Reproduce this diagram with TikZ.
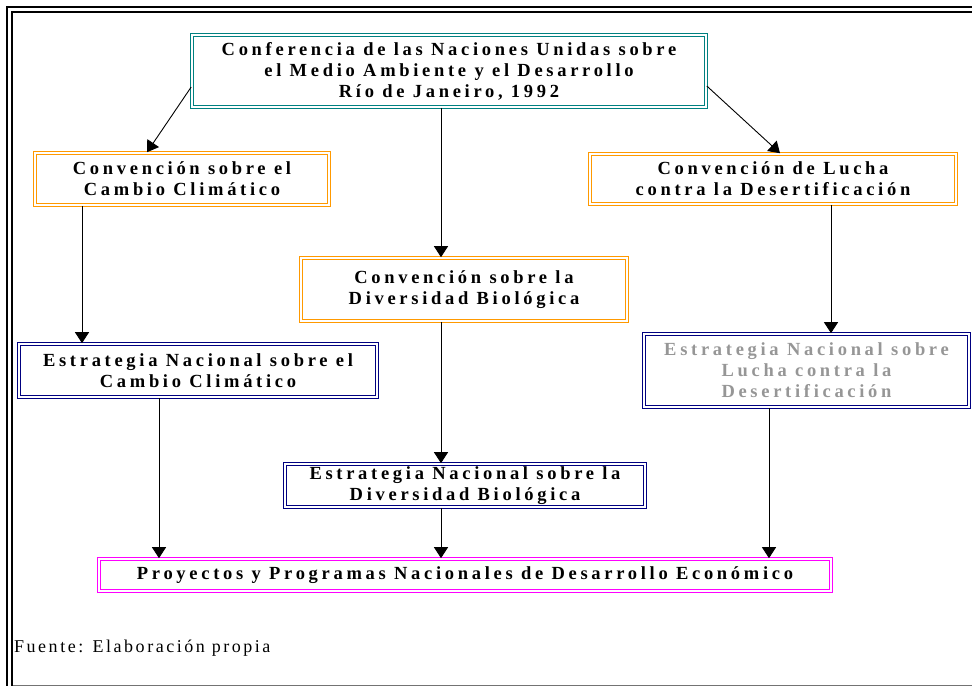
\documentclass[tikz,border=0pt]{standalone}
\usepackage{fontspec}
\setmainfont{Liberation Serif}
\newfontfamily\spacedfont[LetterSpace=20]{Liberation Serif}
\newfontfamily\sourcefont[LetterSpace=14]{Liberation Serif}
\usetikzlibrary{arrows.meta}
\definecolor{confteal}{RGB}{0,128,128}
\definecolor{convorange}{RGB}{255,153,0}
\definecolor{estnavy}{RGB}{0,0,128}
\definecolor{proymagenta}{RGB}{255,0,255}
\definecolor{greytext}{RGB}{150,150,150}
\tikzset{
	caja/.style={draw=#1, double=white, line width=1.6pt, double distance=1.3pt, align=center, inner sep=0pt,
		font={\spacedfont\bfseries\fontsize{18.5}{21}\selectfont}},
	flecha/.style={line width=0.9pt, -{Triangle[width=14pt,length=11pt]}},
}

\begin{document}
\begin{tikzpicture}[x=1pt, y=-1pt]
		%%%%% START %%%%%
		\useasboundingbox (0, 0) rectangle (972, 686);
		
		% frame
		\draw[line width=2pt] (6, 7) -- (972, 7);
		\draw[line width=2pt] (11, 12) -- (972, 12);
		\draw[line width=2pt] (7, 6) -- (7, 686);
		\draw[line width=2pt] (12, 11) -- (12, 686);
		\draw[line width=0.8pt, color=black!55] (13, 685) -- (972, 685);
		
		% boxes
		\node[caja=confteal, minimum width=514, minimum height=72] (conf) at (449, 71)
			{Conferencia de las Naciones Unidas sobre\\el Medio Ambiente y el Desarrollo\\Río de Janeiro, 1992};
		
		\node[caja=convorange, minimum width=294, minimum height=52] (convcc) at (182, 179)
			{Convención sobre el\\Cambio Climático};
		\node[caja=convorange, minimum width=366, minimum height=50] (convlucha) at (773, 179)
			{Convención de Lucha\\contra la Desertificación};
		\node[caja=convorange, minimum width=326, minimum height=63] (convdb) at (464, 289.5)
			{Convención sobre la\\Diversidad Biológica};
		
		\node[caja=estnavy, minimum width=358, minimum height=53] (estcc) at (198, 370.5)
			{Estrategia Nacional sobre el\\Cambio Climático};
		\node[caja=estnavy, minimum width=325, minimum height=73, text=greytext] (estlucha) at (806.5, 370.5)
			{Estrategia Nacional sobre\\Lucha contra la\\Desertificación};
		\node[caja=estnavy, minimum width=360, minimum height=43] (estdb) at (465, 485.5)
			{Estrategia Nacional sobre la\\Diversidad Biológica};
		
		\node[caja=proymagenta, minimum width=732, minimum height=32] (proy) at (465, 575)
			{Proyectos y Programas Nacionales de Desarrollo Económico};
		
		\node[anchor=west, inner sep=0pt, font={\sourcefont\fontsize{18}{21}\selectfont}] (fuente) at (14, 648)
			{Fuente: Elaboración propia};
		
		% arrows
		\draw[flecha] ([yshift=-16pt]conf.west) -- ([xshift=-35pt]convcc.north);
		\draw[flecha] ([yshift=-15pt]conf.east) -- ([xshift=7pt]convlucha.north);
		\draw[flecha] ([xshift=-8pt]conf.south) -- ([xshift=-8pt]conf.south |- convdb.north);
		
		\draw[flecha] ([xshift=-100pt]convcc.south) -- ([xshift=-100pt]convcc.south |- estcc.north);
		\draw[flecha] ([xshift=-23pt]convdb.south) -- ([xshift=-23pt]convdb.south |- estdb.north);
		\draw[flecha] ([xshift=58pt]convlucha.south) -- ([xshift=58pt]convlucha.south |- estlucha.north);
		
		\draw[flecha] ([xshift=-39pt]estcc.south) -- ([xshift=-39pt]estcc.south |- proy.north);
		\draw[flecha] ([xshift=-24pt]estdb.south) -- ([xshift=-24pt]estdb.south |- proy.north);
		\draw[flecha] ([xshift=-37.5pt]estlucha.south) -- ([xshift=-37.5pt]estlucha.south |- proy.north);
		
		%%%%% END %%%%%
	\end{tikzpicture}
\end{document}
